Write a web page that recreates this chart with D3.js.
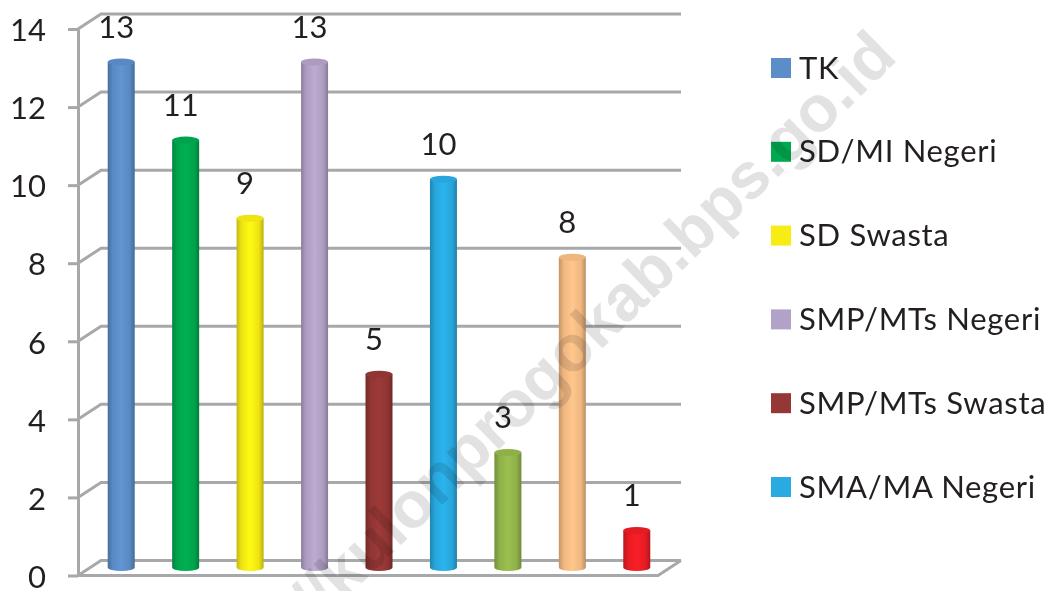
<!DOCTYPE html>
<html>
<head>
<meta charset="utf-8">
<script src="https://cdn.jsdelivr.net/npm/d3@7"></script>
<style>
	html, body {margin: 0; padding: 0; background: #fff;}
	svg {display: block;}
	text {font-family: Lato, "Open Sans", sans-serif; fill: #231f20;}
</style>
</head>
<body>
<svg id="chart" width="1054" height="591"></svg>
<script>
'use strict';

// data
const slots = ['1', '2', '3', '4', '5', '6', '7', '8', '9'];
const values = [13, 11, 9, 13, 5, 10, 3, 8, 1];
const colors = ['#5b8ec9', '#00a84f', '#f7ec13', '#b3a2c7', '#953735', '#29abe2', '#93b64c', '#f8bd85', '#ed1c24'];
const legendLabels = ['TK', 'SD/MI Negeri', 'SD Swasta', 'SMP/MTs Negeri', 'SMP/MTs Swasta', 'SMA/MA Negeri'];
const yTicks = [0, 2, 4, 6, 8, 10, 12, 14];
const watermark = 'https://kulonprogokab.bps.go.id';

const svg = d3.select('#chart');

// front plane of the 3d box
const front = {left: 78, right: 658, top: 29, bottom: 575.5};
const depth = {x: 23, y: -15};

const x = d3.scaleBand().domain(slots).range([front.left, front.right]);
const y = d3.scaleLinear().domain([0, 14]).range([front.bottom, front.top]);

// walls
const grid = svg.append('g')
	.attr('fill', 'none')
	.attr('stroke', '#a6a8a9')
	.attr('stroke-width', 3);

grid.selectAll('.gridline')
	.data(yTicks)
	.enter().append('path')
		.attr('class', 'gridline')
		.attr('d', d => 'M' + front.left + ',' + y(d) +
			'L' + (front.left + depth.x) + ',' + (y(d) + depth.y) +
			'H' + (front.right + depth.x));

// floor front edge + right edge
grid.append('path')
	.attr('d', 'M' + front.left + ',' + y(0) + 'H' + front.right +
		'L' + (front.right + depth.x) + ',' + (y(0) + depth.y));

// y axis
const yAxis = svg.append('g')
	.attr('transform', 'translate(' + front.left + ',0)')
	.call(d3.axisLeft(y).tickValues(yTicks).tickSize(10).tickSizeOuter(0).tickPadding(22));
yAxis.select('.domain').attr('stroke', '#a6a8a9').attr('stroke-width', 3);
yAxis.selectAll('.tick line').attr('stroke', '#a6a8a9').attr('stroke-width', 3);
yAxis.selectAll('.tick text')
	.attr('dy', '0.38em')
	.attr('font-family', null)
	.style('font-size', '31px');

// cylinder shading
const defs = svg.append('defs');
colors.forEach((c, i) => {
	const g = defs.append('linearGradient').attr('id', 'cyl' + i);
	const base = d3.color(c);
	g.append('stop').attr('offset', '0%').attr('stop-color', base.darker(0.7));
	g.append('stop').attr('offset', '18%').attr('stop-color', base.darker(0.1));
	g.append('stop').attr('offset', '50%').attr('stop-color', base.brighter(0.15));
	g.append('stop').attr('offset', '82%').attr('stop-color', base.darker(0.1));
	g.append('stop').attr('offset', '100%').attr('stop-color', base.darker(0.8));
});

// bars
const barW = 27;
const rx = barW / 2;
const ry = 3.5;
const barMid = depth.x / 2 - 0.5;
const barDrop = -6;
const cx = i => x(slots[i]) + x.bandwidth() / 2 + barMid;
const by = v => y(v) + barDrop;
const barFloor = by(0) - 2;

const bars = svg.append('g').selectAll('.bar')
	.data(values)
	.enter().append('g')
		.attr('class', 'bar');

bars.append('path')
	.attr('fill', (d, i) => 'url(#cyl' + i + ')')
	.attr('d', (d, i) => {
		const l = cx(i) - rx;
		const r = cx(i) + rx;
		return 'M' + l + ',' + by(d) +
			'L' + l + ',' + barFloor +
			'A' + rx + ',' + ry + ' 0 0 0 ' + r + ',' + barFloor +
			'L' + r + ',' + by(d) + 'Z';
	});

bars.append('ellipse')
	.attr('cx', (d, i) => cx(i))
	.attr('cy', d => by(d))
	.attr('rx', rx)
	.attr('ry', ry)
	.attr('fill', (d, i) => d3.color(colors[i]).darker(0.1));

// value labels
svg.append('g').selectAll('.val')
	.data(values)
	.enter().append('text')
		.attr('class', 'val')
		.attr('x', (d, i) => cx(i) - 5)
		.attr('y', d => by(d) - 24)
		.attr('text-anchor', 'middle')
		.style('font-size', '31px')
		.text(d => d);

// legend
const legendY = d3.scalePoint().domain(legendLabels).range([68, 487]);
const legend = svg.append('g').selectAll('.legend')
	.data(legendLabels)
	.enter().append('g')
		.attr('class', 'legend')
		.attr('transform', d => 'translate(771,' + legendY(d) + ')');

legend.append('rect')
	.attr('y', -10)
	.attr('width', 20)
	.attr('height', 20)
	.attr('fill', (d, i) => colors[i]);

legend.append('text')
	.attr('x', 28)
	.attr('dy', '0.34em')
	.style('font-size', '31px')
	.style('letter-spacing', '0.7px')
	.text(d => d);

// watermark sits on top and darkens what is under it
svg.append('text')
	.attr('transform', 'translate(899,59) rotate(-44.3)')
	.attr('text-anchor', 'end')
	.style('font-family', '"Liberation Sans", Arial, sans-serif')
	.style('font-size', '65px')
	.style('font-weight', 700)
	.style('fill', '#e2e2e3')
	.style('mix-blend-mode', 'multiply')
	.text(watermark);
</script>
</body>
</html>
